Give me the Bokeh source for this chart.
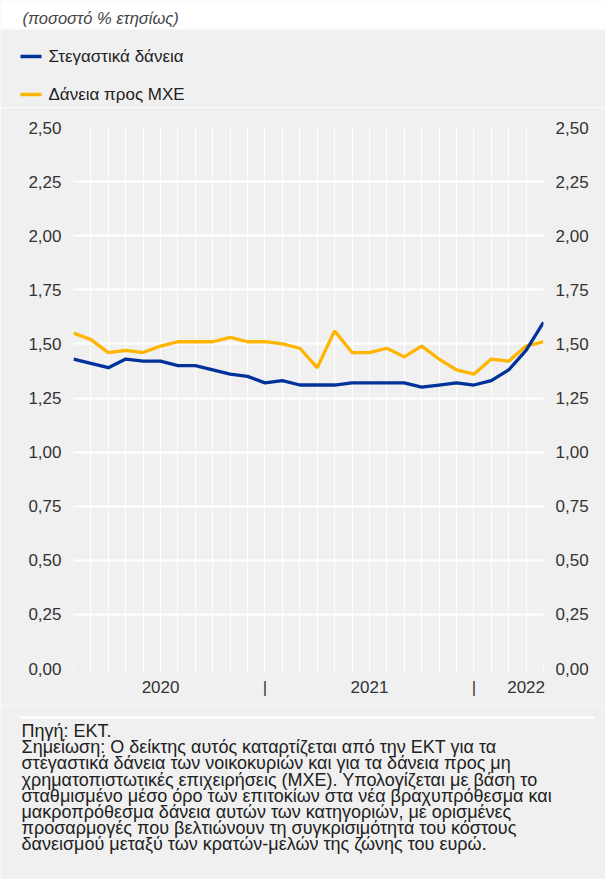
from bokeh.plotting import figure
from bokeh.layouts import column, row
from bokeh.models import (FixedTicker, CustomJSTickFormatter, LinearAxis, Range1d)
from bokeh.core.properties import value
from bokeh.embed import file_html
from bokeh.resources import INLINE

# ---------------- data ----------------
months = ["2020-01", "2020-02", "2020-03", "2020-04", "2020-05", "2020-06",
          "2020-07", "2020-08", "2020-09", "2020-10", "2020-11", "2020-12",
          "2021-01", "2021-02", "2021-03", "2021-04", "2021-05", "2021-06",
          "2021-07", "2021-08", "2021-09", "2021-10", "2021-11", "2021-12",
          "2022-01", "2022-02", "2022-03", "2022-04"]
housing = [1.43, 1.41, 1.39, 1.43, 1.42, 1.42, 1.40, 1.40, 1.38, 1.36,
           1.35, 1.32, 1.33, 1.31, 1.31, 1.31, 1.32, 1.32, 1.32, 1.32,
           1.30, 1.31, 1.32, 1.31, 1.33, 1.38, 1.47, 1.60]
nfc = [1.55, 1.52, 1.46, 1.47, 1.46, 1.49, 1.51, 1.51, 1.51, 1.53,
       1.51, 1.51, 1.50, 1.48, 1.39, 1.56, 1.46, 1.46, 1.48, 1.44,
       1.49, 1.43, 1.38, 1.36, 1.43, 1.42, 1.49, 1.51]
y_ticks = [0.0, 0.25, 0.5, 0.75, 1.0, 1.25, 1.5, 1.75, 2.0, 2.25, 2.5]
year_tick_pos = [5, 11, 17, 23, 26]
year_tick_labels = ["2020", "|", "2021", "|", "2022"]
series_names = ["Στεγαστικά δάνεια", "Δάνεια προς ΜΧΕ"]
subtitle = "(ποσοστό % ετησίως)"
footnote = [
    "Πηγή: ΕΚΤ.",
    "Σημείωση: Ο δείκτης αυτός καταρτίζεται από την ΕΚΤ για τα",
    "στεγαστικά δάνεια των νοικοκυριών και για τα δάνεια προς μη",
    "χρηματοπιστωτικές επιχειρήσεις (ΜΧΕ). Υπολογίζεται με βάση το",
    "σταθμισμένο μέσο όρο των επιτοκίων στα νέα βραχυπρόθεσμα και",
    "μακροπρόθεσμα δάνεια αυτών των κατηγοριών, με ορισμένες",
    "προσαρμογές που βελτιώνουν τη συγκρισιμότητα του κόστους",
    "δανεισμού μεταξύ των κρατών-μελών της ζώνης του ευρώ.",
]

# ---------------- style ----------------
BG = "#f0f0f0"
BLUE = "#003299"
YELLOW = "#ffb400"
FONT = "Liberation Sans"
TXT = "#222222"
W = 605
TOP_H = 107
MAIN_H = 598
FOOT_H = 174


def panel_fig(h):
    f = figure(width=W, height=h, output_backend="svg", toolbar_location=None,
               x_range=Range1d(0, W), y_range=Range1d(h, 0),
               x_axis_type=None, y_axis_type=None,
               min_border=0, min_border_left=0, min_border_right=0,
               min_border_top=0, min_border_bottom=0,
               background_fill_color=BG, border_fill_color=BG,
               outline_line_color=None)
    f.xgrid.visible = False
    f.ygrid.visible = False
    return f


# ---------------- header: subtitle + legend ----------------
top = panel_fig(TOP_H)
top.quad(left=[0], right=[W], top=[0], bottom=[29], fill_color="white",
         line_color=None)
top.text(x=[22], y=[17], text=[subtitle], text_font=value(FONT),
         text_font_size=value("16.5px"), text_font_style="italic",
         text_color="#444444", text_baseline="middle")
legend_y = [56, 94]
for name, col, ly in zip(series_names, [BLUE, YELLOW], legend_y):
    top.line(x=[20, 41], y=[ly, ly], line_color=col, line_width=3.3)
    top.text(x=[48], y=[ly], text=[name], text_font=value(FONT),
             text_font_size=value("17px"), text_color=TXT,
             text_baseline="middle")

# ---------------- main chart ----------------
x = list(range(len(months)))

p = figure(width=W, height=MAIN_H, output_backend="svg", toolbar_location=None,
           x_range=Range1d(0, len(months) - 1), y_range=Range1d(0, 2.5),
           min_border_left=73, min_border_right=62, min_border_top=20,
           min_border_bottom=37,
           background_fill_color=BG, border_fill_color=BG,
           outline_line_color=None)

p.ygrid.ticker = FixedTicker(ticks=y_ticks)
p.ygrid.grid_line_color = "white"
p.ygrid.grid_line_width = 2
p.xgrid.ticker = FixedTicker(ticks=x)
p.xgrid.grid_line_color = "white"
p.xgrid.grid_line_width = 1

yfmt = CustomJSTickFormatter(code="return tick.toFixed(2).replace('.', ',');")
p.yaxis.ticker = FixedTicker(ticks=y_ticks)
p.yaxis.formatter = yfmt
raxis = LinearAxis(ticker=FixedTicker(ticks=y_ticks), formatter=yfmt)
p.add_layout(raxis, "right")
for ax in [p.yaxis[0], raxis]:
    ax.axis_line_color = None
    ax.major_tick_line_color = None
    ax.minor_tick_line_color = None
    ax.major_label_text_font_size = "17px"
    ax.major_label_text_font = FONT
    ax.major_label_text_color = "#333333"
    ax.major_label_standoff = 6

xa = p.xaxis[0]
xa.ticker = FixedTicker(ticks=year_tick_pos, minor_ticks=x)
xa.major_label_overrides = {pos: lab for pos, lab in zip(year_tick_pos, year_tick_labels)}
xa.axis_line_color = None
xa.major_tick_line_color = None
xa.major_tick_out = 0
xa.major_tick_in = 0
xa.minor_tick_line_color = "white"
xa.minor_tick_out = 5
xa.minor_tick_in = 0
xa.major_label_text_font_size = "17px"
xa.major_label_text_font = FONT
xa.major_label_text_color = "#333333"
xa.major_label_standoff = 4

p.line(x, nfc, line_color=YELLOW, line_width=3.3)
p.line(x, housing, line_color=BLUE, line_width=3.3)

# ---------------- footnote ----------------
foot = panel_fig(FOOT_H)
foot.quad(left=[19], right=[594], top=[11], bottom=[13], fill_color="white",
          line_color=None)
foot_y = [25.5 + i * 16.2 for i in range(len(footnote))]
foot.text(x=[21] * len(footnote), y=foot_y, text=footnote,
          text_font=value(FONT), text_font_size=value("18px"),
          text_color=TXT, text_baseline="middle")

layout = column(row(top, spacing=0), p, row(foot, spacing=0), spacing=0)
open("out.html", "w").write(file_html(layout, INLINE))
